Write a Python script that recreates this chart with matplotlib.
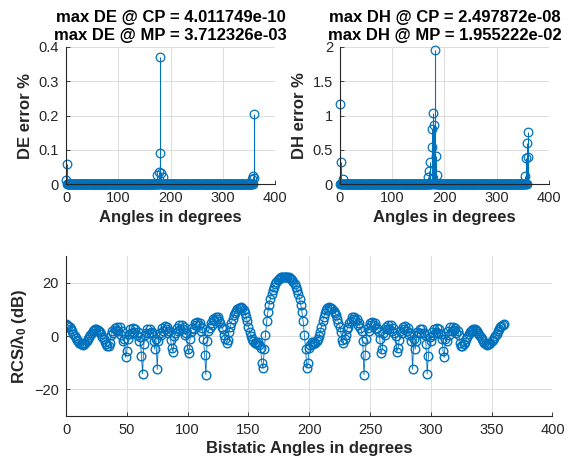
import numpy as np
import matplotlib
matplotlib.use('Agg')
import matplotlib.pyplot as plt

# %%
# Data

angles = np.arange(0, 361)

# spikes of the error plots (angle -> error %), the rest sits at zero
de_angles = [0, 2, 174, 177, 179, 180, 182, 185, 356, 358, 359, 360]
de_values = [0.013, 0.058, 0.027, 0.035, 0.092, 0.371, 0.032, 0.022, 0.015, 0.025, 0.204, 0.02]

dh_angles = [1, 2, 7, 168, 171, 172, 176, 177, 179, 180, 181, 183, 186, 353, 356, 358, 359, 360]
dh_values = [1.17, 0.33, 0.08, 0.11, 0.19, 0.32, 0.80, 0.54, 1.04, 0.87, 1.955, 0.41, 0.13,
             0.12, 0.38, 0.60, 0.755, 0.40]

rcs_0_180 = [
    4.4, 4.2, 3.8, 3.2, 2.5, 1.7, 0.9, 0.1, -0.7, -1.4,
    -2.0, -2.5, -2.9, -3.1, -3.2, -3.0, -2.6, -2.0, -1.3, -0.5,
    0.3, 1.0, 1.7, 2.2, 2.5, 2.6, 2.4, 2.0, 1.4, 0.6,
    -0.3, -1.2, -2.1, -3.0, -3.8, -3.9, -2.5, 0.5, 2.0, 1.2,
    3.0, 2.2, 3.5, 1.8, 3.2, 0.5, 2.0, -2.0, -1.0, -8.0,
    -5.5, -1.0, 0.8, 2.5, 1.0, 3.0, 1.5, 2.8, 0.5, 1.5,
    -2.0, -0.5, -7.5, -14.2, -3.0, 0.5, 1.0, 2.5, 1.2, 2.8,
    1.0, 1.5, -2.0, -5.0, -1.0, -12.5, -2.0, 1.0, 0.5, 3.0,
    2.0, 3.8, 2.5, 3.5, 1.0, 2.0, -1.5, -4.5, -6.0, 0.0,
    1.0, 3.0, 2.0, 4.0, 2.8, 4.2, 2.5, 3.5, 0.5, 1.0,
    -5.0, -6.5, -1.0, 1.5, 3.0, 2.5, 4.8, 4.0, 5.3, 4.0,
    4.8, 2.0, 3.0, -1.0, -7.0, -14.5, -2.0, 2.0, 3.0, 5.0,
    4.0, 6.5, 6.0, 7.2, 6.5, 7.0, 5.5, 5.0, 3.5, 2.5,
    0.5, -1.0, -2.5, -1.5, 1.5, 3.5, 5.0, 6.5, 7.8, 8.8,
    9.5, 10.0, 10.4, 10.6, 10.8, 10.4, 9.6, 8.6, 7.2, 5.5,
    3.5, 1.5, 0.0, -1.2, -2.0, -2.5, -2.2, -3.0, -2.2, -3.5,
    -4.5, -10.0, -12.0, -5.0, 0.5, 5.5, 9.0, 11.8, 14.0, 15.8,
    17.3, 18.5, 19.5, 20.3, 20.9, 21.4, 21.7, 22.0, 22.1, 22.2,
    22.2,
]
rcs_181_360 = [
    22.2, 22.1, 22.0, 21.7, 21.4, 20.9, 20.3, 19.5, 18.5, 17.3,
    15.8, 14.0, 11.8, 9.0, 5.5, 0.5, -5.0, -12.0, -10.0, -4.5,
    -3.5, -2.2, -3.0, -2.2, -2.5, -2.0, -1.2, 0.0, 1.5, 3.5,
    5.5, 7.2, 8.6, 9.6, 10.4, 10.8, 10.6, 10.4, 10.0, 9.5,
    8.8, 7.8, 6.5, 5.0, 3.5, 1.5, -1.5, -2.5, -1.0, 0.5,
    2.5, 3.5, 5.0, 5.5, 7.0, 6.5, 7.2, 6.0, 6.5, 4.0,
    5.0, 3.0, 2.0, -2.0, -14.5, -7.0, -1.0, 3.0, 2.0, 4.8,
    4.0, 5.3, 4.0, 4.8, 2.5, 3.0, 1.5, -1.0, -6.5, -5.0,
    1.0, 0.5, 3.5, 2.5, 4.2, 2.8, 4.0, 2.0, 3.0, 1.0,
    0.0, -6.0, -4.5, -1.5, 2.0, 1.0, 3.5, 2.5, 3.8, 2.0,
    3.0, 0.5, 1.0, -2.0, -12.5, -1.0, -5.0, -2.0, 1.5, 1.0,
    2.8, 1.2, 2.5, 1.0, 0.5, -3.0, -14.2, -7.5, -0.5, -2.0,
    1.5, 0.5, 2.8, 1.5, 3.0, 1.0, 2.5, 0.8, -1.0, -5.5,
    -8.0, -1.0, -2.0, 2.0, 0.5, 3.2, 1.8, 3.5, 2.2, 3.0,
    1.2, 2.0, 0.5, -2.5, -3.9, -3.8, -3.0, -2.1, -1.2, -0.3,
    0.6, 1.4, 2.0, 2.4, 2.6, 2.5, 2.2, 1.7, 1.0, 0.3,
    -0.5, -1.3, -2.0, -2.6, -3.0, -3.2, -3.1, -2.9, -2.5, -2.0,
    -1.4, -0.7, 0.1, 0.9, 1.7, 2.5, 3.2, 3.8, 4.2, 4.4,
]
rcs = np.array(rcs_0_180 + rcs_181_360)

de_title = 'max DE @ CP = 4.011749e-10\nmax DE @ MP = 3.712326e-03'
dh_title = 'max DH @ CP = 2.497872e-08\nmax DH @ MP = 1.955222e-02'

de_err = np.zeros(len(angles))
de_err[de_angles] = de_values
dh_err = np.zeros(len(angles))
dh_err[dh_angles] = dh_values

# %%
# MATLAB-ish look

blue = '#0072BD'
dark = '#262626'
plt.rcParams['font.family'] = ['Liberation Sans', 'DejaVu Sans']
plt.rcParams['mathtext.fontset'] = 'custom'
plt.rcParams['mathtext.rm'] = 'Liberation Sans'
plt.rcParams['mathtext.bf'] = 'Liberation Sans:bold'
plt.rcParams['mathtext.it'] = 'Liberation Sans:italic'


def matlab_axes(ax):
    for side in ['top', 'right']:
        ax.spines[side].set_visible(False)
    for side in ['left', 'bottom']:
        ax.spines[side].set_color(dark)
        ax.spines[side].set_linewidth(0.8)
    ax.tick_params(direction='in', length=3, width=0.6, colors=dark, labelsize=10.5, pad=5)
    ax.grid(True, color='#dcdcdc', linewidth=0.7)
    ax.set_axisbelow(True)


def stem_plot(ax, x, y):
    markers, stems, base = ax.stem(x, y, linefmt='-', markerfmt='o', basefmt='-')
    stems.set_color(blue)
    stems.set_linewidth(0.8)
    markers.set_color(blue)
    markers.set_markerfacecolor('none')
    markers.set_markersize(6.2)
    markers.set_markeredgewidth(0.9)
    markers.set_clip_on(False)
    base.set_color(dark)
    base.set_linewidth(0.6)


fig = plt.figure(figsize=(5.75, 4.68), dpi=100)

ax1 = fig.add_axes([0.1148, 0.606, 0.364, 0.294])
ax2 = fig.add_axes([0.591, 0.606, 0.364, 0.294])
ax3 = fig.add_axes([0.1148, 0.111, 0.846, 0.342])

# %%
stem_plot(ax1, angles, de_err)
matlab_axes(ax1)
ax1.set_xlim(0, 400)
ax1.set_ylim(0, 0.4)
ax1.set_xticks([0, 100, 200, 300, 400])
ax1.set_yticks([0, 0.1, 0.2, 0.3, 0.4])
ax1.set_yticklabels(['0', '0.1', '0.2', '0.3', '0.4'])
ax1.set_xlabel('Angles in degrees', fontsize=12, fontweight='bold', color=dark, labelpad=3)
ax1.set_ylabel('DE error %', fontsize=12, fontweight='bold', color=dark)
ax1.set_title(de_title, fontsize=12, fontweight='bold', color='black', pad=5, linespacing=1.25)

stem_plot(ax2, angles, dh_err)
matlab_axes(ax2)
ax2.set_xlim(0, 400)
ax2.set_ylim(0, 2)
ax2.set_xticks([0, 100, 200, 300, 400])
ax2.set_yticks([0, 0.5, 1, 1.5, 2])
ax2.set_yticklabels(['0', '0.5', '1', '1.5', '2'])
ax2.set_xlabel('Angles in degrees', fontsize=12, fontweight='bold', color=dark, labelpad=3)
ax2.set_ylabel('DH error %', fontsize=12, fontweight='bold', color=dark)
ax2.set_title(dh_title, fontsize=12, fontweight='bold', color='black', pad=5, linespacing=1.25)

# %%
ax3.plot(angles, rcs, '-o', color=blue, linewidth=0.6, markersize=6.2,
         markerfacecolor='none', markeredgewidth=1.0)
matlab_axes(ax3)
ax3.set_xlim(0, 400)
ax3.set_ylim(-30, 30)
ax3.set_xticks(np.arange(0, 401, 50))
ax3.set_yticks([-20, 0, 20])
ax3.set_xlabel('Bistatic Angles in degrees', fontsize=12, fontweight='bold', color=dark, labelpad=3)
ax3.set_ylabel(r'RCS/$\mathbf{\lambda_0}$ (dB)', fontsize=12, fontweight='bold', color=dark)

fig.savefig('out.png', dpi=100)
